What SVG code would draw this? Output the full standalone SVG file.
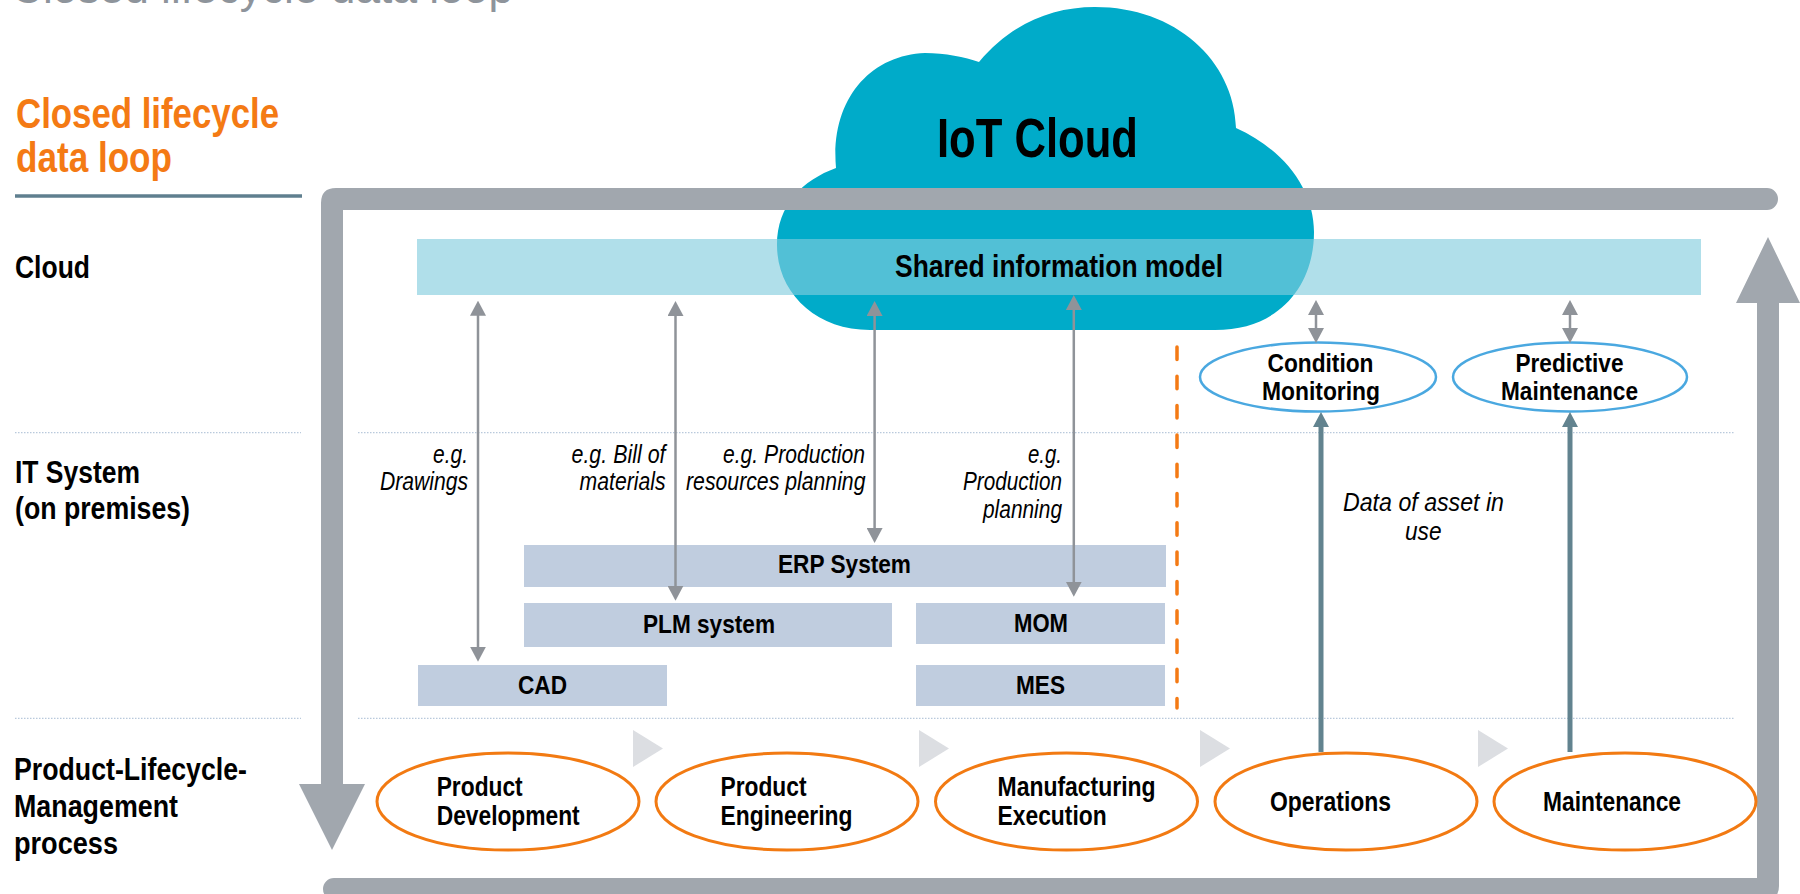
<svg xmlns="http://www.w3.org/2000/svg" width="1800" height="894" viewBox="0 0 1800 894">
<defs>
<style>
text{font-family:'Liberation Sans Narrow','Arial Narrow','Liberation Sans',Arial,sans-serif;fill:#000}
.b{font-weight:bold}
.lbl{font-weight:bold;font-size:31px}
.node{font-weight:bold;font-size:26px}
.pn{font-weight:bold;font-size:27px}
.it{font-style:italic;font-size:25px}
.box{fill:#c0cddf}
.proc{fill:#fff;stroke:#f27a12;stroke-width:3}
.svc{fill:#fff;stroke:#4aa8e0;stroke-width:2.5}
.dot{stroke:#b9c9dc;stroke-width:1.3;stroke-dasharray:1.5 1.5;fill:none}
.ga{stroke:#8f9399;stroke-width:2.5;fill:none;marker-start:url(#gh);marker-end:url(#gh)}
.ta{stroke:#62838f;stroke-width:5;fill:none;marker-end:url(#th)}
.chev{fill:#dcdee2}
.frame{fill:#a1a7ae}
</style>
<marker id="gh" viewBox="0 0 15 16" refX="5" refY="8" markerWidth="15" markerHeight="16" markerUnits="userSpaceOnUse" orient="auto-start-reverse"><path d="M0,0L15,8L0,16Z" fill="#8f9399"/></marker>
<marker id="th" viewBox="0 0 15 16" refX="5" refY="8" markerWidth="15" markerHeight="16" markerUnits="userSpaceOnUse" orient="auto"><path d="M0,0L15,8L0,16Z" fill="#62838f"/></marker>
</defs>

<g id="title">
<text x="11" y="3" style="font-family:'Liberation Sans',Arial,sans-serif;font-size:44px;fill:#8e949b" textLength="502" lengthAdjust="spacingAndGlyphs">Closed lifecycle data loop</text>
<text x="16" y="128" class="b" style="font-size:43px;fill:#f47a14" textLength="263" lengthAdjust="spacingAndGlyphs">Closed lifecycle</text>
<text x="16" y="172" class="b" style="font-size:43px;fill:#f47a14" textLength="156" lengthAdjust="spacingAndGlyphs">data loop</text>
<line x1="15" y1="196" x2="302" y2="196" stroke="#5f7f8f" stroke-width="3.5"/>
</g>

<g id="row-labels">
<text x="15" y="278" class="lbl" textLength="75" lengthAdjust="spacingAndGlyphs">Cloud</text>
<text x="15" y="483" class="lbl" textLength="125" lengthAdjust="spacingAndGlyphs">IT System</text>
<text x="15" y="519" class="lbl" textLength="175" lengthAdjust="spacingAndGlyphs">(on premises)</text>
<text x="14" y="780" class="lbl" textLength="233" lengthAdjust="spacingAndGlyphs">Product-Lifecycle-</text>
<text x="14" y="817" class="lbl" textLength="164" lengthAdjust="spacingAndGlyphs">Management</text>
<text x="14" y="854" class="lbl" textLength="104" lengthAdjust="spacingAndGlyphs">process</text>
</g>

<g id="row-separators">
<line class="dot" x1="15" y1="432.7" x2="301" y2="432.7"/>
<line class="dot" x1="358" y1="432.7" x2="1734" y2="432.7"/>
<line class="dot" x1="15" y1="718.3" x2="301" y2="718.3"/>
<line class="dot" x1="358" y1="718.3" x2="1734" y2="718.3"/>
</g>

<g id="iot-cloud">
<path d="M870 330 C815 330 777 292 777 245 C777 205 803 180 836 168 C830 100 870 55 925 53 C945 53 965 57 979 62 C1010 25 1050 7 1095 7 C1175 7 1234 60 1236 128 C1285 150 1314 190 1314 232 C1314 285 1280 330 1215 330 Z" fill="#00abc9"/>
<text x="937" y="157" class="b" style="font-size:55px" textLength="201" lengthAdjust="spacingAndGlyphs">IoT Cloud</text>
</g>

<g id="loop-frame">
<path class="frame" d="M321 784 L299 784 L332 850 L365 784 L343 784 L343 210 L1767 210 A11 11 0 0 0 1767 188 L336 188 Q321 188 321 203 Z"/>
<path class="frame" d="M334 878 L1757 878 L1757 303 L1736 303 L1768 237 L1800 303 L1779 303 L1779 886 Q1779 900 1765 900 L334 900 A11 11 0 0 1 334 878 Z"/>
</g>

<g id="shared-model">
<rect x="417" y="239" width="1284" height="56" fill="rgb(130,205,222)" fill-opacity="0.63"/>
<text x="895" y="277" class="lbl" textLength="328" lengthAdjust="spacingAndGlyphs">Shared information model</text>
</g>

<g id="erp"><rect class="box" x="524" y="545" width="642" height="42"/><text x="778" y="573" class="node" textLength="133" lengthAdjust="spacingAndGlyphs">ERP System</text></g>
<g id="plm"><rect class="box" x="524" y="603" width="368" height="44"/><text x="643" y="633" class="node" textLength="132" lengthAdjust="spacingAndGlyphs">PLM system</text></g>
<g id="mom"><rect class="box" x="916" y="603" width="249" height="41"/><text x="1014" y="632" class="node" textLength="54" lengthAdjust="spacingAndGlyphs">MOM</text></g>
<g id="cad"><rect class="box" x="418" y="665" width="249" height="41"/><text x="518" y="694" class="node" textLength="49" lengthAdjust="spacingAndGlyphs">CAD</text></g>
<g id="mes"><rect class="box" x="916" y="665" width="249" height="41"/><text x="1016" y="694" class="node" textLength="49" lengthAdjust="spacingAndGlyphs">MES</text></g>

<g id="condition-monitoring"><ellipse class="svc" cx="1318" cy="377" rx="118" ry="34.5"/>
<text x="1267.5" y="372" class="node" textLength="106" lengthAdjust="spacingAndGlyphs">Condition</text>
<text x="1262" y="400" class="node" textLength="118" lengthAdjust="spacingAndGlyphs">Monitoring</text></g>
<g id="predictive-maintenance"><ellipse class="svc" cx="1570" cy="377" rx="117" ry="34.5"/>
<text x="1515.5" y="372" class="node" textLength="108" lengthAdjust="spacingAndGlyphs">Predictive</text>
<text x="1501" y="400" class="node" textLength="137" lengthAdjust="spacingAndGlyphs">Maintenance</text></g>

<g id="process-steps">
<polygon class="chev" points="633,730 663,748.5 633,767"/>
<polygon class="chev" points="919,730 949,748.5 919,767"/>
<polygon class="chev" points="1200,730 1230,748.5 1200,767"/>
<polygon class="chev" points="1478,730 1508,748.5 1478,767"/>
</g>
<g id="product-development"><ellipse class="proc" cx="508" cy="801.5" rx="131" ry="48.5"/>
<text x="436.7" y="795.7" class="pn" textLength="86" lengthAdjust="spacingAndGlyphs">Product</text>
<text x="436.7" y="825" class="pn" textLength="143" lengthAdjust="spacingAndGlyphs">Development</text></g>
<g id="product-engineering"><ellipse class="proc" cx="787" cy="801.5" rx="131" ry="48.5"/>
<text x="720.5" y="795.7" class="pn" textLength="86" lengthAdjust="spacingAndGlyphs">Product</text>
<text x="720.5" y="825" class="pn" textLength="132" lengthAdjust="spacingAndGlyphs">Engineering</text></g>
<g id="manufacturing-execution"><ellipse class="proc" cx="1066.5" cy="801.5" rx="131" ry="48.5"/>
<text x="997.6" y="795.7" class="pn" textLength="158" lengthAdjust="spacingAndGlyphs">Manufacturing</text>
<text x="997.6" y="825" class="pn" textLength="109" lengthAdjust="spacingAndGlyphs">Execution</text></g>
<g id="operations"><ellipse class="proc" cx="1346" cy="801.5" rx="131" ry="48.5"/>
<text x="1270" y="810.5" class="pn" textLength="121" lengthAdjust="spacingAndGlyphs">Operations</text></g>
<g id="maintenance"><ellipse class="proc" cx="1625" cy="801.5" rx="131" ry="48.5"/>
<text x="1543" y="810.5" class="pn" textLength="138" lengthAdjust="spacingAndGlyphs">Maintenance</text></g>

<g id="connectors">
<line class="ga" x1="478" y1="310.7" x2="478" y2="651.7"/>
<line class="ga" x1="675.5" y1="311" x2="675.5" y2="590.7"/>
<line class="ga" x1="874.6" y1="311" x2="874.6" y2="533"/>
<line class="ga" x1="1073.8" y1="305" x2="1073.8" y2="586.7"/>
<line class="ga" x1="1316" y1="310" x2="1316" y2="333"/>
<line class="ga" x1="1570" y1="310" x2="1570" y2="333"/>
<line class="ta" x1="1321" y1="752" x2="1321" y2="422"/>
<line class="ta" x1="1570" y1="752" x2="1570" y2="422"/>
<line x1="1177" y1="347" x2="1177" y2="708" stroke="#f47a14" stroke-width="3.5" stroke-linecap="round" stroke-dasharray="12.5 16.8"/>
<text x="433" y="463" class="it" textLength="35" lengthAdjust="spacingAndGlyphs">e.g.</text>
<text x="380" y="490" class="it" textLength="88" lengthAdjust="spacingAndGlyphs">Drawings</text>
<text x="571.5" y="463" class="it" textLength="94" lengthAdjust="spacingAndGlyphs">e.g. Bill of</text>
<text x="579.6" y="490" class="it" textLength="86" lengthAdjust="spacingAndGlyphs">materials</text>
<text x="723" y="463" class="it" textLength="142" lengthAdjust="spacingAndGlyphs">e.g. Production</text>
<text x="686" y="490" class="it" textLength="179.5" lengthAdjust="spacingAndGlyphs">resources planning</text>
<text x="1028" y="463" class="it" textLength="34" lengthAdjust="spacingAndGlyphs">e.g.</text>
<text x="963" y="490" class="it" textLength="99" lengthAdjust="spacingAndGlyphs">Production</text>
<text x="983" y="518" class="it" textLength="79" lengthAdjust="spacingAndGlyphs">planning</text>
<text x="1343" y="511" class="it" style="font-size:26.5px" textLength="161" lengthAdjust="spacingAndGlyphs">Data of asset in</text>
<text x="1405" y="540" class="it" style="font-size:26.5px" textLength="36.5" lengthAdjust="spacingAndGlyphs">use</text>
</g>
</svg>
